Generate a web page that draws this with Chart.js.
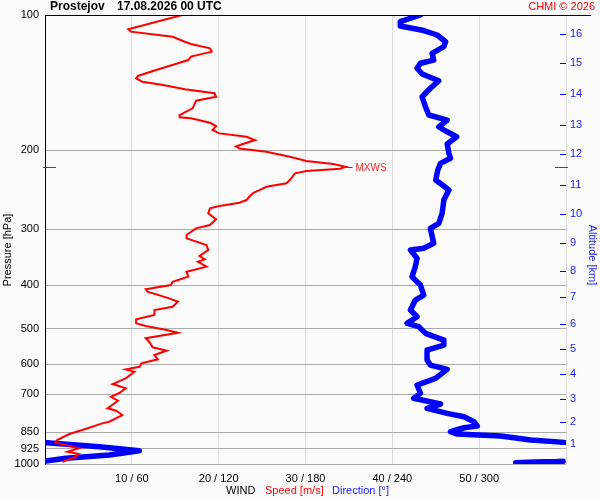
<!DOCTYPE html>
<html>
<head>
<meta charset="utf-8">
<script src="https://cdn.jsdelivr.net/npm/chart.js@4.4.1/dist/chart.umd.min.js"></script>
<style>
	html, body { margin: 0; padding: 0; background: #fbfbfb; }
	#wrap { width: 600px; height: 500px; position: relative; }
</style>
</head>
<body>
<div id="wrap"><canvas id="myChart"></canvas></div>
<script>
// pressure levels [hPa] and wind speed [m/s]
const speedPressure = [100,107.6,108.9,111.8,114.7,116.0,118.6,120.7,123.8,126.0,
	127.7,132.6,136.7,138.4,140.8,143.2,146.4,149.4,152.1,155.2,
	161.4,167.0,169.0,169.9,173.8,176.7,180.4,183.5,186.7,189.9,
	193.8,196.3,198.3,201.6,206.8,211.4,214.7,217.7,220.0,222.6,
	225.3,233.1,237.1,241.3,245.4,248.8,253.0,258.3,261.8,266.3,
	269.5,276.5,285.1,293.7,298.7,309.0,314.4,325.3,333.8,344.2,
	350.1,354.4,363.6,373.1,382.7,392.7,399.4,408.3,413.4,427.6,
	435.1,446.4,454.0,465.9,476.3,486.1,492.9,503.2,510.2,524.8,
	534.1,549.6,559.4,571.9,584.6,596.8,607.3,615.5,623.0,644.6,
	663.7,678.5,694.0,708.4,722.9,751.6,760.9,778.0,805.2,812.0,
	840.1,857.5,884.3,896.6,922.6,939.0,950.0,966.2,988.3];
const speedValues = [15.8,9.6,9.9,14.7,16.1,16.8,19.0,19.2,16.8,16.5,
	15.5,12.8,10.7,10.5,11.2,13.6,16.1,19.5,19.7,17.4,
	17.0,15.5,15.5,16.8,19.0,19.7,19.3,20.1,23.2,24.2,
	22.8,22.0,22.4,25.5,28.2,30.1,33.2,34.6,34.0,30.1,
	28.8,28.2,27.8,25.5,24.7,24.0,23.6,23.2,22.4,20.1,
	19.0,18.8,19.7,19.0,17.4,16.3,16.3,18.6,18.8,17.8,
	18.4,17.6,18.6,16.3,16.5,14.7,14.5,11.6,11.8,14.3,
	15.3,14.7,12.6,12.6,10.5,10.5,11.6,14.0,15.3,11.6,
	12.0,12.4,14.0,12.6,13.0,11.1,10.9,9.3,10.3,9.3,
	7.8,9.3,8.6,7.6,8.4,7.2,8.2,8.9,7.4,6.6,
	4.3,2.8,1.4,1.2,3.9,2.6,3.9,3.4,2.0];

// pressure levels [hPa] and wind direction [deg], null = break where it wraps round 360
const dirPressure = [100,103.5,105.8,108.3,110.8,114.7,117.6,121.7,126.0,128.1,
	131.4,135.3,140.1,145.6,152.1,160.1,167.0,171.4,177.4,182.0,
	186.7,193.8,203.2,208.5,214.0,221.4,233.1,245.4,258.3,276.5,
	291.0,298.7,322.5,330.8,333.8,348.3,363.6,382.7,399.4,420.5,
	431.3,454.0,469.9,486.1,494.6,511.7,529.6,543.3,557.5,586.8,
	602.0,615.5,644.6,667.1,696.0,714.0,735.3,751.6,771.3,785.0,
	805.2,823.2,830.4,847.6,857.5,866.4,884.3,895.0,null,
	896.6,915.2,934.2,955.0,971.2,984.5,null,
	985.5,987,990,993];
const dirValues = [259.4,245.5,245.5,261.7,271,276.8,275.6,267.5,268.6,259.4,
	257.1,260.6,272.1,266.3,260.6,262.9,265.2,277.9,272.1,277.9,
	284.4,277.9,279.1,280.2,273.3,271.4,270,279.1,275.6,274.4,
	272.1,266.3,268.6,261.7,252.5,257.1,255.9,253.6,259.4,261.7,
	255.9,252.5,257.1,250.2,258.3,262.9,275.6,275.6,264,264,
	266.3,277.9,269.8,257.1,259.4,254.8,273.3,264,277.9,289.5,
	296.4,298.7,289.5,280.2,284.8,314.9,335.7,358.8,null,
	1.4,37.5,65.2,44.4,14.4,0.5,null,
	358,354.2,338,325.3];

// axes
const pressureTicks = [100, 200, 300, 400, 500, 600, 700, 850, 925, 1000];
const windTickLabels = ['', '10 / 60', '20 / 120', '30 / 180', '40 / 240', '50 / 300', ''];
const altitudeKm = [16, 15, 14, 13, 12, 11, 10, 9, 8, 7, 6, 5, 4, 3, 2, 1];
const altitudePressure = [110.2, 128.1, 149.9, 175.5, 204.3, 239.1, 277.9, 322.5,
	371.7, 425.3, 487.7, 555.3, 630.3, 716.5, 805, 903.7];

const FONT = 'Liberation Sans, Arial, sans-serif';
const RED = '#ff0000';
const BLUE = '#0000ff';
const LABEL_BLUE = '#1a1aff';

//-----------------Decorations-------------------//
const decor = {
	id: 'decor',
	beforeDraw(chart) {
		const ctx = chart.ctx;
		ctx.save();
		ctx.fillStyle = '#fbfbfb';
		ctx.fillRect(0, 0, chart.width, chart.height);
		ctx.restore();
	},
	afterDraw(chart) {
		const ctx = chart.ctx;
		const area = chart.chartArea;
		const x = chart.scales.x;
		const y = chart.scales.y;
		const yAlt = chart.scales.yAlt;
		ctx.save();

		// frame top
		ctx.strokeStyle = '#000000';
		ctx.lineWidth = 1;
		ctx.beginPath();
		ctx.moveTo(area.left, area.top + 0.5);
		ctx.lineTo(591, area.top + 0.5);
		ctx.stroke();

		// altitude tick marks
		ctx.strokeStyle = BLUE;
		yAlt.ticks.forEach(t => {
			const py = Math.round(yAlt.getPixelForValue(t.value)) + 0.5;
			ctx.beginPath();
			ctx.moveTo(area.right - 6, py);
			ctx.lineTo(area.right, py);
			ctx.stroke();
		});

		// maximum wind speed
		let maxIdx = 0;
		speedValues.forEach((v, i) => { if (v > speedValues[maxIdx]) maxIdx = i; });
		const my = Math.round(y.getPixelForValue(speedPressure[maxIdx])) + 0.5;
		const mx = x.getPixelForValue(speedValues[maxIdx]);
		ctx.strokeStyle = RED;
		ctx.beginPath();
		ctx.moveTo(mx, my); ctx.lineTo(mx + 7, my);
		ctx.moveTo(area.left - 2, my); ctx.lineTo(area.left + 11, my);
		ctx.moveTo(area.right - 11, my); ctx.lineTo(area.right + 2, my);
		ctx.stroke();
		ctx.fillStyle = '#ff2a2a';
		ctx.font = '10px ' + FONT;
		ctx.textBaseline = 'middle';
		ctx.textAlign = 'left';
		ctx.fillText('MXWS', mx + 10, my + 1);

		// header
		ctx.fillStyle = '#000000';
		ctx.font = 'bold 12px ' + FONT;
		ctx.fillText('Prostejov', 50, 7);
		ctx.fillText('17.08.2026 00 UTC', 117, 7);
		ctx.fillStyle = RED;
		ctx.font = '11px ' + FONT;
		ctx.textAlign = 'right';
		ctx.fillText('CHMI \u00a9 2026', 595, 7);

		// bottom title
		ctx.textAlign = 'left';
		ctx.fillStyle = '#000000';
		ctx.fillText('WIND', 226, 491);
		ctx.fillStyle = RED;
		ctx.fillText('Speed [m/s]', 265, 491);
		ctx.fillStyle = LABEL_BLUE;
		ctx.fillText('Direction [\u00b0]', 332, 491);

		// side titles
		ctx.textAlign = 'center';
		ctx.save();
		ctx.translate(8, 250);
		ctx.rotate(-Math.PI / 2);
		ctx.fillStyle = '#000000';
		ctx.fillText('Pressure [hPa]', 0, 0);
		ctx.restore();
		ctx.save();
		ctx.translate(592, 255);
		ctx.rotate(Math.PI / 2);
		ctx.fillStyle = LABEL_BLUE;
		ctx.fillText('Altitude [km]', 0, 0);
		ctx.restore();

		ctx.restore();
	}
};
//-----------------Decorations-------------------//

const ctx = document.getElementById('myChart');
const myChart = new Chart(ctx, {
	type: 'scatter',
	data: {
		datasets: [
			{
				label: 'Speed',
				data: speedPressure.map((p, i) => ({ x: speedValues[i], y: p })),
				xAxisID: 'x',
				yAxisID: 'y',
				showLine: true,
				borderColor: RED,
				borderWidth: 2,
				pointRadius: 0,
				order: 0
			},
			{
				label: 'Direction',
				data: dirPressure.map((p, i) => ({ x: dirValues[i], y: p })),
				xAxisID: 'xDir',
				yAxisID: 'y',
				showLine: true,
				spanGaps: false,
				borderColor: BLUE,
				borderWidth: 5.5,
				borderCapStyle: 'round',
				borderJoinStyle: 'round',
				pointRadius: 0,
				order: 1
			}
		]
	},
	options: {
		responsive: true,
		maintainAspectRatio: false,
		animation: false,
		events: [],
		layout: { padding: { top: 15, left: 0, right: 0, bottom: 0 } },
		plugins: {
			legend: { display: false },
			tooltip: { enabled: false }
		},
		scales: {
			x: {
				type: 'linear',
				min: 0,
				max: 60,
				afterBuildTicks: s => { s.ticks = windTickLabels.map((l, i) => ({ value: i * 10 })); },
				afterFit: s => { s.height = 36; },
				ticks: {
					autoSkip: false,
					maxRotation: 0,
					padding: 8,
					color: '#000000',
					font: { family: FONT, size: 11 },
					callback: (v, i) => windTickLabels[i]
				},
				grid: { color: '#dcdcdc', drawTicks: false },
				border: { display: false }
			},
			xDir: {
				type: 'linear',
				display: false,
				min: 0,
				max: 360
			},
			y: {
				type: 'logarithmic',
				position: 'left',
				min: 100,
				max: 1000,
				reverse: true,
				afterBuildTicks: s => { s.ticks = pressureTicks.map(v => ({ value: v })); },
				afterFit: s => { s.width = 45; },
				ticks: {
					autoSkip: false,
					padding: 6,
					color: '#000000',
					font: { family: FONT, size: 11 },
					callback: v => String(v)
				},
				grid: { color: '#aaaaaa', drawTicks: false },
				border: { color: '#000000', width: 1 }
			},
			yAlt: {
				type: 'logarithmic',
				position: 'right',
				min: 100,
				max: 1000,
				reverse: true,
				afterBuildTicks: s => { s.ticks = altitudePressure.map(v => ({ value: v })); },
				afterFit: s => { s.width = 34; },
				ticks: {
					autoSkip: false,
					padding: 4,
					color: LABEL_BLUE,
					font: { family: FONT, size: 11 },
					callback: (v, i) => String(altitudeKm[i])
				},
				grid: { display: false, drawTicks: false },
				border: { display: false }
			}
		}
	},
	plugins: [decor]
});
</script>
</body>
</html>
